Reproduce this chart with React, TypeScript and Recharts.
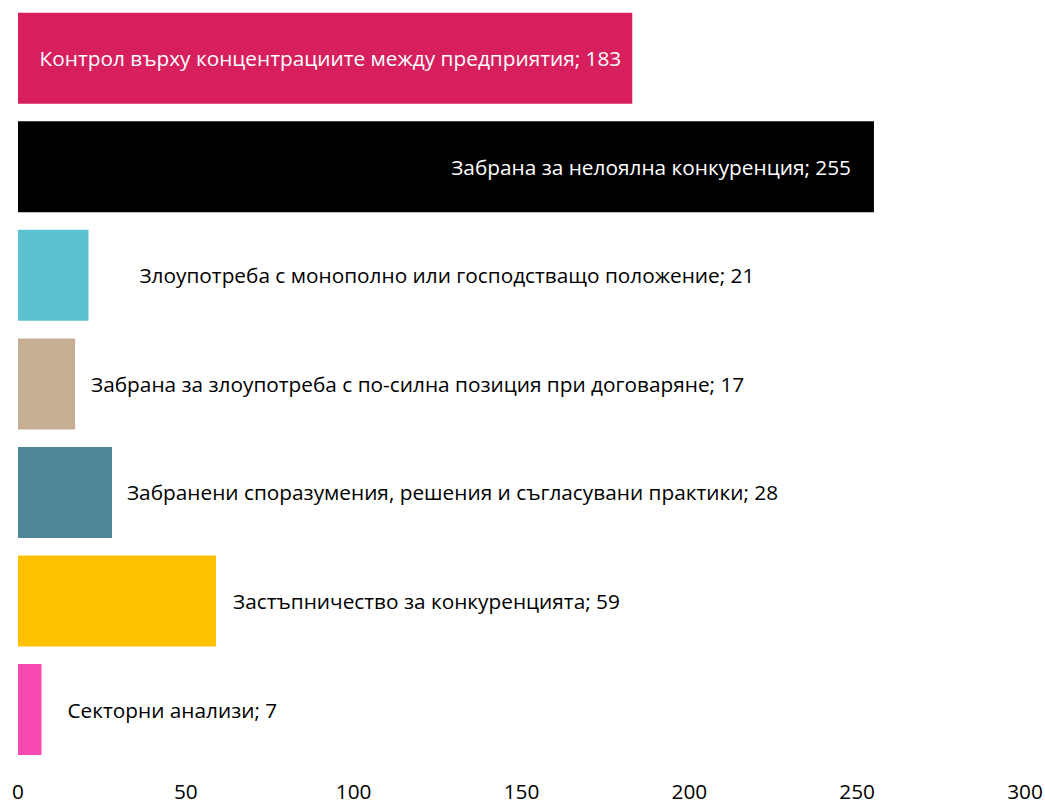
import React from 'react';
import { BarChart, Bar, XAxis, YAxis, Cell, LabelList } from 'recharts';

const categories = [
  'Контрол върху концентрациите между предприятия',
  'Забрана за нелоялна конкуренция',
  'Злоупотреба с монополно или господстващо положение',
  'Забрана за злоупотреба с по-силна позиция при договаряне',
  'Забранени споразумения, решения и съгласувани практики',
  'Застъпничество за конкуренцията',
  'Секторни анализи',
];
const values = [183, 255, 21, 17, 28, 59, 7];
const xTicks = [0, 50, 100, 150, 200, 250, 300];

const colors = ['#D81F5E', '#000000', '#5BC0CF', '#C4AE94', '#4F8598', '#FFC000', '#F74AB1'];
// gap between bar end and its label, as placed in the original
const labelGap = [11, 23, 51, 16, 15, 17, 26];

const data = categories.map((name, i) => ({ name, value: values[i] }));

const FONT = '"Open Sans", sans-serif';
const FS = 20.8;

const renderLabel = (props: any) => {
  const { x, y, width, height, index } = props;
  const d = data[index];
  const text = `${d.name}; ${d.value}`;
  const inside = d.value > 100;
  const cy = y + height / 2;
  if (inside) {
    return (
      <text x={x + width - labelGap[index]} y={cy} fill="#fff" fontSize={FS} fontFamily={FONT}
        textAnchor="end" dominantBaseline="central">
        {text}
      </text>
    );
  }
  return (
    <text x={x + width + labelGap[index]} y={cy} fill="#000" fontSize={FS} fontFamily={FONT}
      textAnchor="start" dominantBaseline="central">
      {text}
    </text>
  );
};

export default function App() {
  return (
    <div style={{ position: 'absolute', left: 0, top: 0, background: '#fff' }}>
      <BarChart
        width={1045}
        height={805}
        data={data}
        layout="vertical"
        margin={{ top: 4, right: 20, bottom: 0, left: 18 }}
        barCategoryGap="8%"
      >
        <XAxis
          type="number"
          domain={[0, 300]}
          ticks={xTicks}
          axisLine={false}
          tickLine={false}
          tickMargin={14}
          height={41}
          interval={0}
          tick={{ fill: '#000', fontSize: FS, fontFamily: FONT }}
        />
        <YAxis type="category" dataKey="name" hide />
        <Bar dataKey="value" isAnimationActive={false}>
          {data.map((_, i) => (
            <Cell key={`c-${i}`} fill={colors[i]} />
          ))}
          <LabelList dataKey="value" content={renderLabel} />
        </Bar>
      </BarChart>
    </div>
  );
}
